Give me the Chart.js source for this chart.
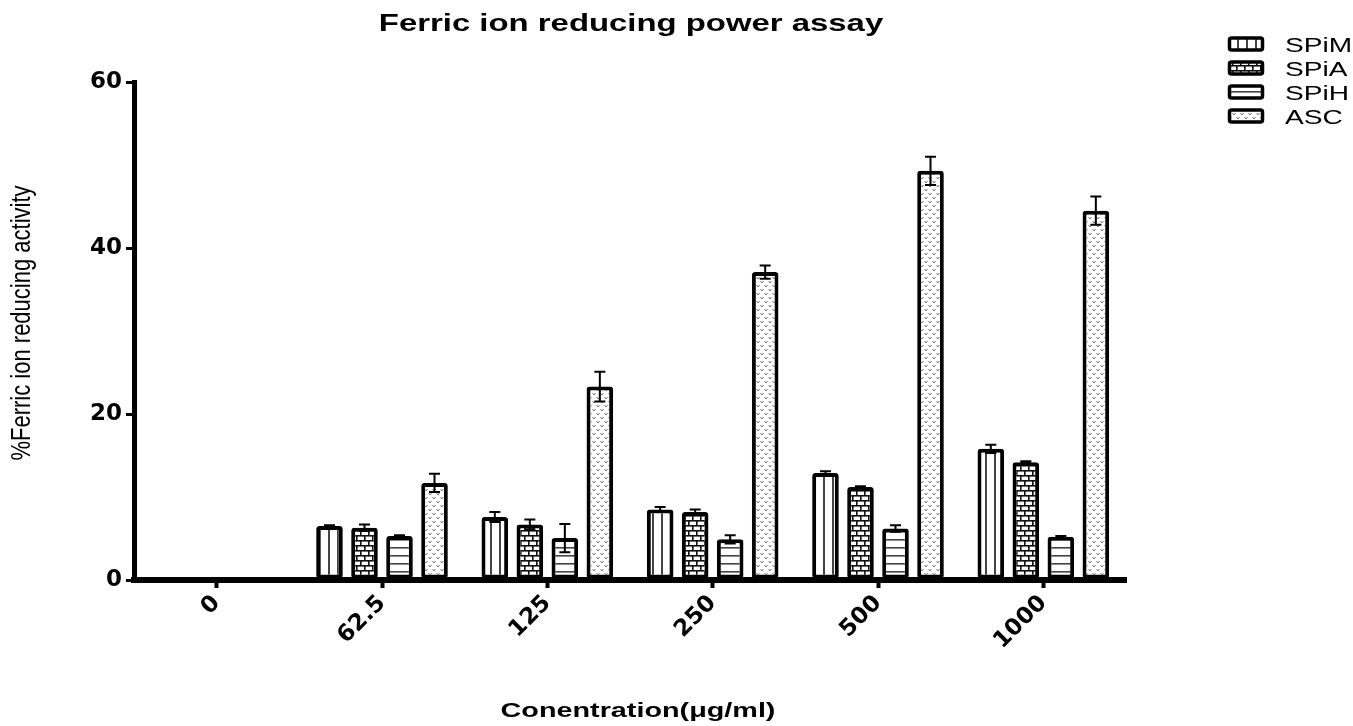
<!DOCTYPE html>
<html><head><meta charset="utf-8">
<script src="https://cdn.jsdelivr.net/npm/chart.js@4.4.0/dist/chart.umd.min.js"></script>
<style>html,body{margin:0;padding:0;background:#fff;}</style>
</head><body>
<canvas id="c" width="1353" height="726"></canvas>
<script>
const chartTitle = 'Ferric ion reducing power assay';
const xTitle = 'Conentration(\u03bcg/ml)';
const yTitle = '%Ferric ion reducing activity';
const categories = ['0', '62.5', '125', '250', '500', '1000'];
const seriesNames = ['SPiM', 'SPiA', 'SPiH', 'ASC'];
const spimValues = [0, 6.5, 7.6, 8.5, 12.9, 15.8];
const spimErrors = [0, 0.1, 0.6, 0.3, 0.2, 0.5];
const spiaValues = [0, 6.3, 6.7, 8.2, 11.2, 14.2];
const spiaErrors = [0, 0.4, 0.6, 0.3, 0.1, 0.1];
const spihValues = [0, 5.3, 5.05, 4.9, 6.2, 5.2];
const spihErrors = [0, 0.1, 1.7, 0.5, 0.4, 0.1];
const ascValues = [0, 11.7, 23.3, 37.1, 49.3, 44.5];
const ascErrors = [0, 1.1, 1.8, 0.8, 1.7, 1.7];
const yTicks = [0, 20, 40, 60];

const canvas = document.getElementById('c');
const mainCtx = canvas.getContext('2d');
function makePattern(w, h, draw) {
  const c = document.createElement('canvas');
  c.width = w; c.height = h;
  const g = c.getContext('2d');
  g.fillStyle = '#fff'; g.fillRect(0, 0, w, h);
  draw(g);
  return mainCtx.createPattern(c, 'repeat');
}
const patSPiM = makePattern(9, 4, g => { g.fillStyle = '#444'; g.fillRect(4, 0, 2, 4); });
const patSPiA = makePattern(8, 10, g => {
  g.fillStyle = '#111';
  g.fillRect(0, 0, 8, 1.6); g.fillRect(0, 5, 8, 1.6);
  g.fillRect(0, 0, 1.6, 5); g.fillRect(4, 5, 1.6, 5);
});
const patSPiH = makePattern(4, 8, g => { g.fillStyle = '#444'; g.fillRect(0, 3, 4, 1.6); });
const patASC = makePattern(8, 8, g => {
  g.strokeStyle = '#7a7a7a'; g.lineWidth = 1;
  g.beginPath();
  g.moveTo(0.5, 1); g.lineTo(2, 3); g.lineTo(3.5, 1);
  g.moveTo(4.5, 5); g.lineTo(6, 7); g.lineTo(7.5, 5);
  g.stroke();
});
const patterns = [patSPiM, patSPiA, patSPiH, patASC];
const valueSets = [spimValues, spiaValues, spihValues, ascValues];
const errorSets = [spimErrors, spiaErrors, spihErrors, ascErrors];

const STRETCH = 1.37;
function stretchedText(ctx, text, x, y, font, align) {
  ctx.save();
  ctx.font = font;
  ctx.fillStyle = '#000';
  ctx.textBaseline = 'alphabetic';
  ctx.textAlign = 'left';
  const w = ctx.measureText(text).width * STRETCH;
  const x0 = align === 'center' ? x - w / 2 : x;
  ctx.translate(x0, y);
  ctx.scale(STRETCH, 1);
  ctx.fillText(text, 0, 0);
  ctx.restore();
}
function roundRect(ctx, x, y, w, h, r) {
  ctx.beginPath();
  ctx.moveTo(x + r, y);
  ctx.lineTo(x + w - r, y); ctx.quadraticCurveTo(x + w, y, x + w, y + r);
  ctx.lineTo(x + w, y + h - r); ctx.quadraticCurveTo(x + w, y + h, x + w - r, y + h);
  ctx.lineTo(x + r, y + h); ctx.quadraticCurveTo(x, y + h, x, y + h - r);
  ctx.lineTo(x, y + r); ctx.quadraticCurveTo(x, y, x + r, y);
  ctx.closePath();
}

const errorBars = {
  id: 'errorBars',
  afterDatasetsDraw(chart) {
    const ctx = chart.ctx, ys = chart.scales.y;
    chart.data.datasets.forEach((ds, di) => {
      const meta = chart.getDatasetMeta(di);
      meta.data.forEach((bar, i) => {
        const v = ds.data[i], e = ds.errors[i];
        if (!e) return;
        const x = bar.x;
        const yt = ys.getPixelForValue(v + e), yb = ys.getPixelForValue(v - e);
        ctx.save();
        ctx.strokeStyle = '#000'; ctx.lineWidth = 2;
        ctx.beginPath();
        ctx.moveTo(x, yt); ctx.lineTo(x, yb);
        ctx.moveTo(x - 5.5, yt); ctx.lineTo(x + 5.5, yt);
        ctx.moveTo(x - 5.5, yb); ctx.lineTo(x + 5.5, yb);
        ctx.stroke();
        ctx.restore();
      });
    });
  }
};

const texts = {
  id: 'texts',
  afterDraw(chart) {
    const ctx = chart.ctx, area = chart.chartArea;
    const cx = (area.left + area.right) / 2;
    stretchedText(ctx, chartTitle, cx + 1, 31, 'bold 24px "Liberation Sans"', 'center');
    stretchedText(ctx, xTitle, cx + 8, 717, 'bold 21px "Liberation Sans"', 'center');
    // y title
    ctx.save();
    ctx.translate(22, (area.top + area.bottom) / 2 - 8);
    ctx.rotate(-Math.PI / 2);
    ctx.scale(1, 1.25);
    ctx.font = '22px "Liberation Sans"';
    ctx.fillStyle = '#000';
    ctx.textAlign = 'center';
    ctx.textBaseline = 'middle';
    ctx.fillText(yTitle, 0, 0);
    ctx.restore();
    // legend
    seriesNames.forEach((name, i) => {
      const yc = 44 + i * 24;
      ctx.save();
      roundRect(ctx, 1229.5, yc - 6, 33, 12, 2);
      ctx.fillStyle = patterns[i];
      ctx.fill();
      ctx.lineWidth = 3.5; ctx.strokeStyle = '#000';
      ctx.stroke();
      ctx.restore();
      stretchedText(ctx, name, 1285, yc + 7.5, '20.5px "Liberation Sans"', 'left');
    });
  }
};

new Chart(canvas, {
  type: 'bar',
  data: {
    labels: categories,
    datasets: seriesNames.map((name, i) => ({
      label: name,
      data: valueSets[i],
      errors: errorSets[i],
      backgroundColor: patterns[i],
      borderColor: '#000',
      borderWidth: 4,
      borderRadius: 3,
      borderSkipped: false,
      categoryPercentage: 0.847,
      barPercentage: 0.76
    }))
  },
  options: {
    responsive: false,
    animation: false,
    devicePixelRatio: 1,
    layout: { padding: { left: 0, top: 82, right: 227, bottom: 0 } },
    plugins: { legend: { display: false }, title: { display: false }, tooltip: { enabled: false } },
    scales: {
      x: {
        afterFit(s) { s.height = 146; },
        grid: { display: true, offset: false, drawOnChartArea: false, drawTicks: true, tickLength: 8, tickWidth: 4, tickColor: '#000', color: '#000' },
        border: { display: true, color: '#000', width: 6 },
        ticks: { color: '#000', font: { family: 'DejaVu Sans', weight: 'bold', size: 23 }, minRotation: 45, maxRotation: 45, autoSkip: false, padding: 2 }
      },
      y: {
        min: 0, max: 60,
        afterFit(s) { s.width = 134; },
        afterBuildTicks(s) { s.ticks = yTicks.map(v => ({ value: v })); },
        grid: { display: true, drawOnChartArea: false, drawTicks: true, tickLength: 8, tickWidth: 3, tickColor: '#000', color: '#000', lineWidth: 3 },
        border: { display: true, color: '#000', width: 5 },
        ticks: { color: '#000', font: { family: 'DejaVu Sans', weight: 'bold', size: 23 }, padding: 4 }
      }
    }
  },
  plugins: [errorBars, texts]
});
</script>
</body></html>
